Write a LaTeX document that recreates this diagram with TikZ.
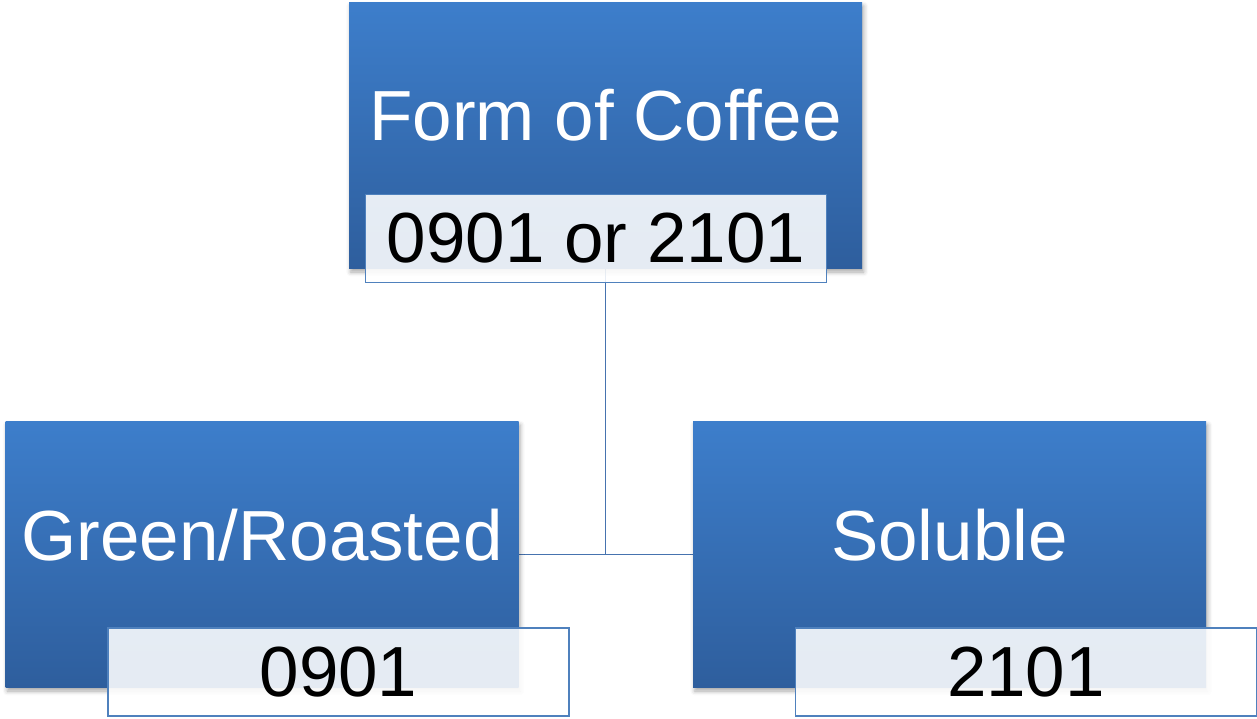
\documentclass[tikz,border=0pt]{standalone}
\usepackage{fontspec}
\setmainfont{Liberation Sans}
\usetikzlibrary{shadows.blur,backgrounds}

\definecolor{boxtop}{RGB}{61,126,203}
\definecolor{boxbottom}{RGB}{46,94,157}
\definecolor{codeline}{RGB}{79,129,189}
\definecolor{linkblue}{RGB}{70,115,175}

\newcommand{\bigfont}{\fontsize{40.4}{48}\selectfont}

\tikzset{
  formbox/.style={rectangle, inner sep=0pt, top color=boxtop, bottom color=boxbottom,
    minimum width=513*\px, minimum height=266*\px,
    blur shadow={shadow xshift=1pt, shadow yshift=-2pt, shadow blur radius=2.5pt, shadow opacity=35}},
  codebox/.style={rectangle, inner sep=0pt, draw=codeline, line width=0.8pt,
    fill=white, fill opacity=0.88, text opacity=1, text=black,
    minimum width=461*\px, minimum height=88*\px, font=\bigfont},
  formtitle/.style={anchor=base, inner sep=0pt, text=white, font=\bigfont},
  link/.style={draw=linkblue, line width=1.1pt}
}

\begin{document}
\begin{tikzpicture}[x=0.02cm, y=-0.02cm]
    \def\px{0.02cm} % one pixel of the layout
    \useasboundingbox (0,0) rectangle (1257,718);

    % top level
    \node [formbox] (form) at (605.5,135.5) {};
    \node [formtitle] (formtitle) at (605.5,140) {Form of Coffee};
    \node [codebox] (formcode) at (596,238.5) {0901 or 2101};

    % the two forms below
    \foreach \name/\x/\code/\title in {green/262/0901/{Green/Roasted}, soluble/949.5/2101/Soluble}
    {
    \node [formbox] (\name) at (\x,554.5) {};
    \node [formtitle] (\name title) at (\x,560) {\title};
    \node [codebox] (\name code) at (\x+76.5,672) {\code};
    }

    \begin{scope}[on background layer]
    \draw [link] (form.south) -- (form.south |- green.east);
    \draw [link] (green.east) -- (soluble.west);
    \end{scope}
\end{tikzpicture}
\end{document}
